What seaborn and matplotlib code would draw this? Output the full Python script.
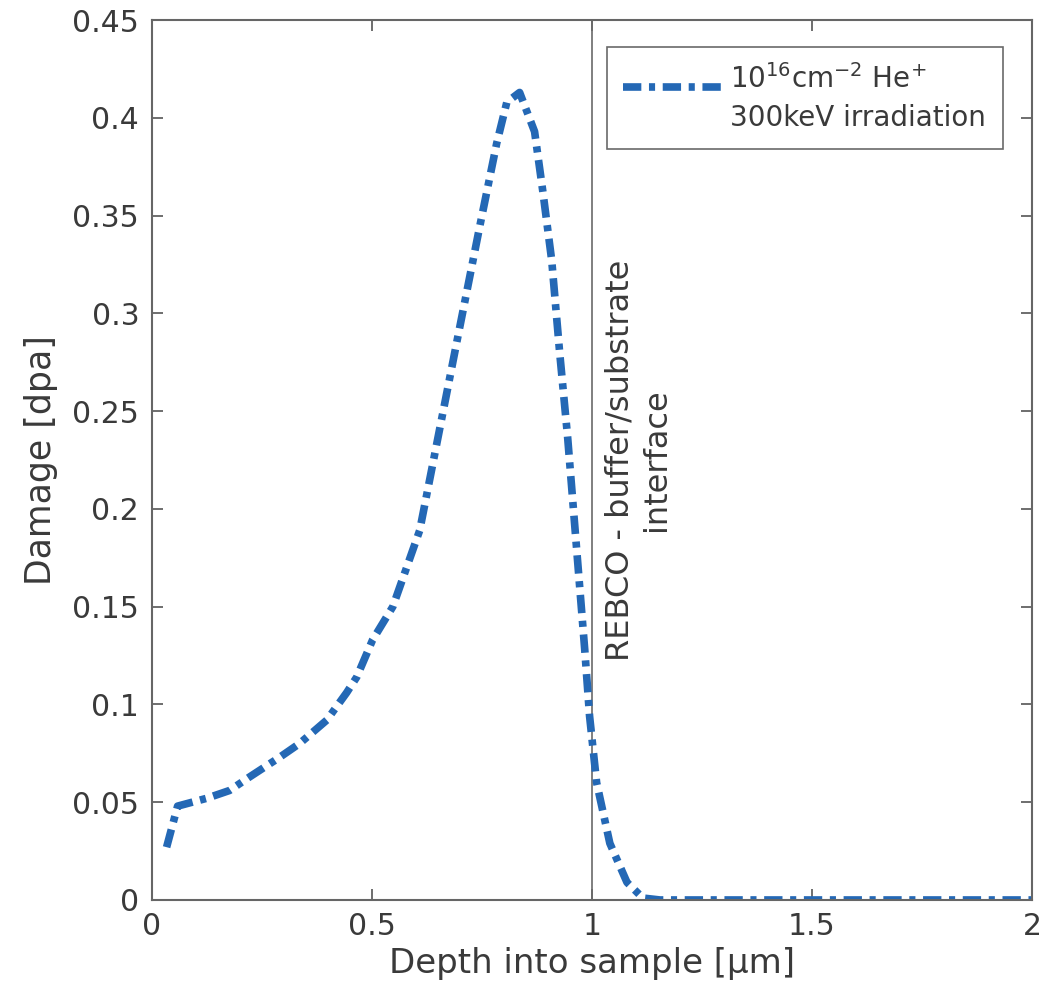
import matplotlib
matplotlib.use("Agg")
import matplotlib.pyplot as plt
from matplotlib.legend_handler import HandlerLine2D
from matplotlib.lines import Line2D
import seaborn as sns
import pandas as pd

depth_um = [0.034, 0.059, 0.125, 0.177, 0.223, 0.291, 0.336, 0.398, 0.443, 0.466,
            0.502, 0.548, 0.609, 0.693, 0.745, 0.784, 0.807, 0.836, 0.870, 0.889,
            0.909, 0.927, 0.945, 0.984, 0.995, 1.011, 1.041, 1.080, 1.116, 1.155,
            1.3, 1.5, 1.7, 1.9, 2.0]
damage_dpa = [0.027, 0.048, 0.052, 0.056, 0.063, 0.073, 0.080, 0.092, 0.106, 0.114,
              0.133, 0.150, 0.189, 0.285, 0.344, 0.387, 0.408, 0.413, 0.393, 0.362,
              0.327, 0.280, 0.237, 0.128, 0.094, 0.060, 0.029, 0.009, 0.001, 0.0,
              0.0, 0.0, 0.0, 0.0, 0.0]
series_label = "10$^{16}$cm$^{-2}$ He$^{+}$\n300keV irradiation"
x_ticks = [0, 0.5, 1, 1.5, 2]
x_tick_labels = ["0", "0.5", "1", "1.5", "2"]
y_ticks = [0, 0.05, 0.1, 0.15, 0.2, 0.25, 0.3, 0.35, 0.4, 0.45]
y_tick_labels = ["0", "0.05", "0.1", "0.15", "0.2", "0.25", "0.3", "0.35", "0.4", "0.45"]
interface_x = 1.0
interface_text = "REBCO - buffer/substrate\ninterface"

sns.set_style("ticks")
plt.rcParams['font.family'] = ['DejaVu Sans']
plt.rcParams['mathtext.fontset'] = 'dejavusans'
text_color = "#3a3a3a"

df = pd.DataFrame({"Depth": depth_um, "Damage": damage_dpa})

fig = plt.figure(figsize=(10.53, 10.05), dpi=100)
ax = fig.add_axes([0.144, 0.1045, 0.836, 0.8755])

sns.lineplot(data=df, x="Depth", y="Damage", ax=ax, color="#2468b5", lw=5.5,
             label=series_label, sort=False)
line = ax.get_lines()[0]
line.set_dashes([2.4, 1.0, 0.8, 1.0])
line.set_dash_capstyle("butt")

ax.axvline(interface_x, color="#6a6a6a", lw=1.2, zorder=1)
ax.text(interface_x + 0.03, 0.225, interface_text, rotation=90, ha="left", va="center",
        fontsize=23, color=text_color, multialignment="center")

ax.set_xlim(0, 2)
ax.set_ylim(0, 0.45)
ax.set_xticks(x_ticks)
ax.set_xticklabels(x_tick_labels)
ax.set_yticks(y_ticks)
ax.set_yticklabels(y_tick_labels)
ax.tick_params(direction="in", length=8, width=1.2, color="#555555", labelsize=21.5,
               labelcolor=text_color, top=True, right=True, pad=9)
for s in ax.spines.values():
    s.set_visible(True)
    s.set_color("#666666")
    s.set_linewidth(1.5)

ax.set_xlabel("Depth into sample [μm]", fontsize=24.5, color=text_color, labelpad=4)
ax.set_ylabel("Damage [dpa]", fontsize=25, color=text_color, labelpad=10)


class RaisedLineHandler(HandlerLine2D):
    def create_artists(self, legend, orig_handle, xdescent, ydescent, width, height,
                       fontsize, trans):
        return super().create_artists(legend, orig_handle, xdescent,
                                      ydescent - 0.9 * fontsize, width, height,
                                      fontsize, trans)


leg = ax.legend(loc="upper right", bbox_to_anchor=(0.967, 0.969), fontsize=20,
                frameon=True, fancybox=False, handlelength=3.6, handletextpad=0.25,
                borderpad=0.6, borderaxespad=0.0, labelcolor=text_color,
                handler_map={Line2D: RaisedLineHandler()})
for t in leg.get_texts():
    t.set_linespacing(1.45)
leg.get_frame().set_edgecolor("#444444")
leg.get_frame().set_linewidth(1.2)

fig.savefig("out.png", dpi=100)
